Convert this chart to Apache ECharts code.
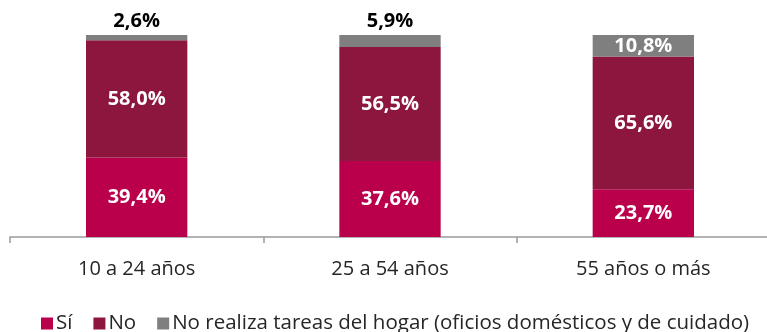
<!DOCTYPE html>
<html>
<head>
<meta charset="utf-8">
<script src="https://cdn.jsdelivr.net/npm/echarts@6/dist/echarts.min.js"></script>
<style>
  html, body { margin: 0; padding: 0; background: #fff; overflow: hidden; }
  #wrap { width: 767px; height: 332px; overflow: hidden; }
  #chart { width: 800px; height: 332px; }
</style>
</head>
<body>
<div id="wrap"><div id="chart"></div></div>
<script>
// Age groups and share of people (%) by whether they do household chores
const categories = ['10 a 24 años', '25 a 54 años', '55 años o más'];
const seriesNames = ['Sí', 'No', 'No realiza tareas del hogar (oficios domésticos y de cuidado)'];
const siValues = [39.4, 37.6, 23.7];
const noValues = [58.0, 56.5, 65.6];
const noRealizaValues = [2.6, 5.9, 10.8];

const colors = ['#BA004B', '#8C163D', '#7F7F7F'];
const FONT = '"Open Sans", "DejaVu Sans", sans-serif';

const fmt = v => v.toFixed(1).replace('.', ',') + '%';

// Thin segments get their label placed above the bar in dark text
function withLabels(values) {
  return values.map(v => v < 8
    ? { value: v, label: { position: 'top', color: '#000', distance: 4 } }
    : { value: v });
}

function makeSeries(name, values, color) {
  return {
    name: name,
    type: 'bar',
    stack: 'total',
    barWidth: '40%',
    data: withLabels(values),
    itemStyle: { color: color },
    label: {
      show: true,
      position: 'inside',
      color: '#fff',
      fontFamily: FONT,
      fontWeight: 'bold',
      fontSize: 20,
      formatter: p => fmt(p.value)
    }
  };
}

const chart = echarts.init(document.getElementById('chart'), null, { renderer: 'canvas' });
chart.setOption({
  animation: false,
  grid: { left: 10, top: 35, width: 760, height: 202 },
  legend: {
    top: 308,
    left: 36,
    itemWidth: 12,
    itemHeight: 12,
    itemGap: 21,
    icon: 'rect',
    textStyle: { fontFamily: FONT, fontSize: 20.5, color: '#262626', padding: [0, 0, 0, -2] },
    data: seriesNames
  },
  xAxis: {
    type: 'category',
    data: categories,
    axisLine: { lineStyle: { color: '#9a9a9a', width: 1.5 } },
    axisTick: { show: true, length: 6, lineStyle: { color: '#9a9a9a', width: 1.5 } },
    axisLabel: { fontFamily: FONT, fontSize: 20, color: '#262626', margin: 22 }
  },
  yAxis: {
    type: 'value',
    min: 0,
    max: 100,
    show: false
  },
  series: [
    makeSeries(seriesNames[0], siValues, colors[0]),
    makeSeries(seriesNames[1], noValues, colors[1]),
    makeSeries(seriesNames[2], noRealizaValues, colors[2])
  ]
});
</script>
</body>
</html>
